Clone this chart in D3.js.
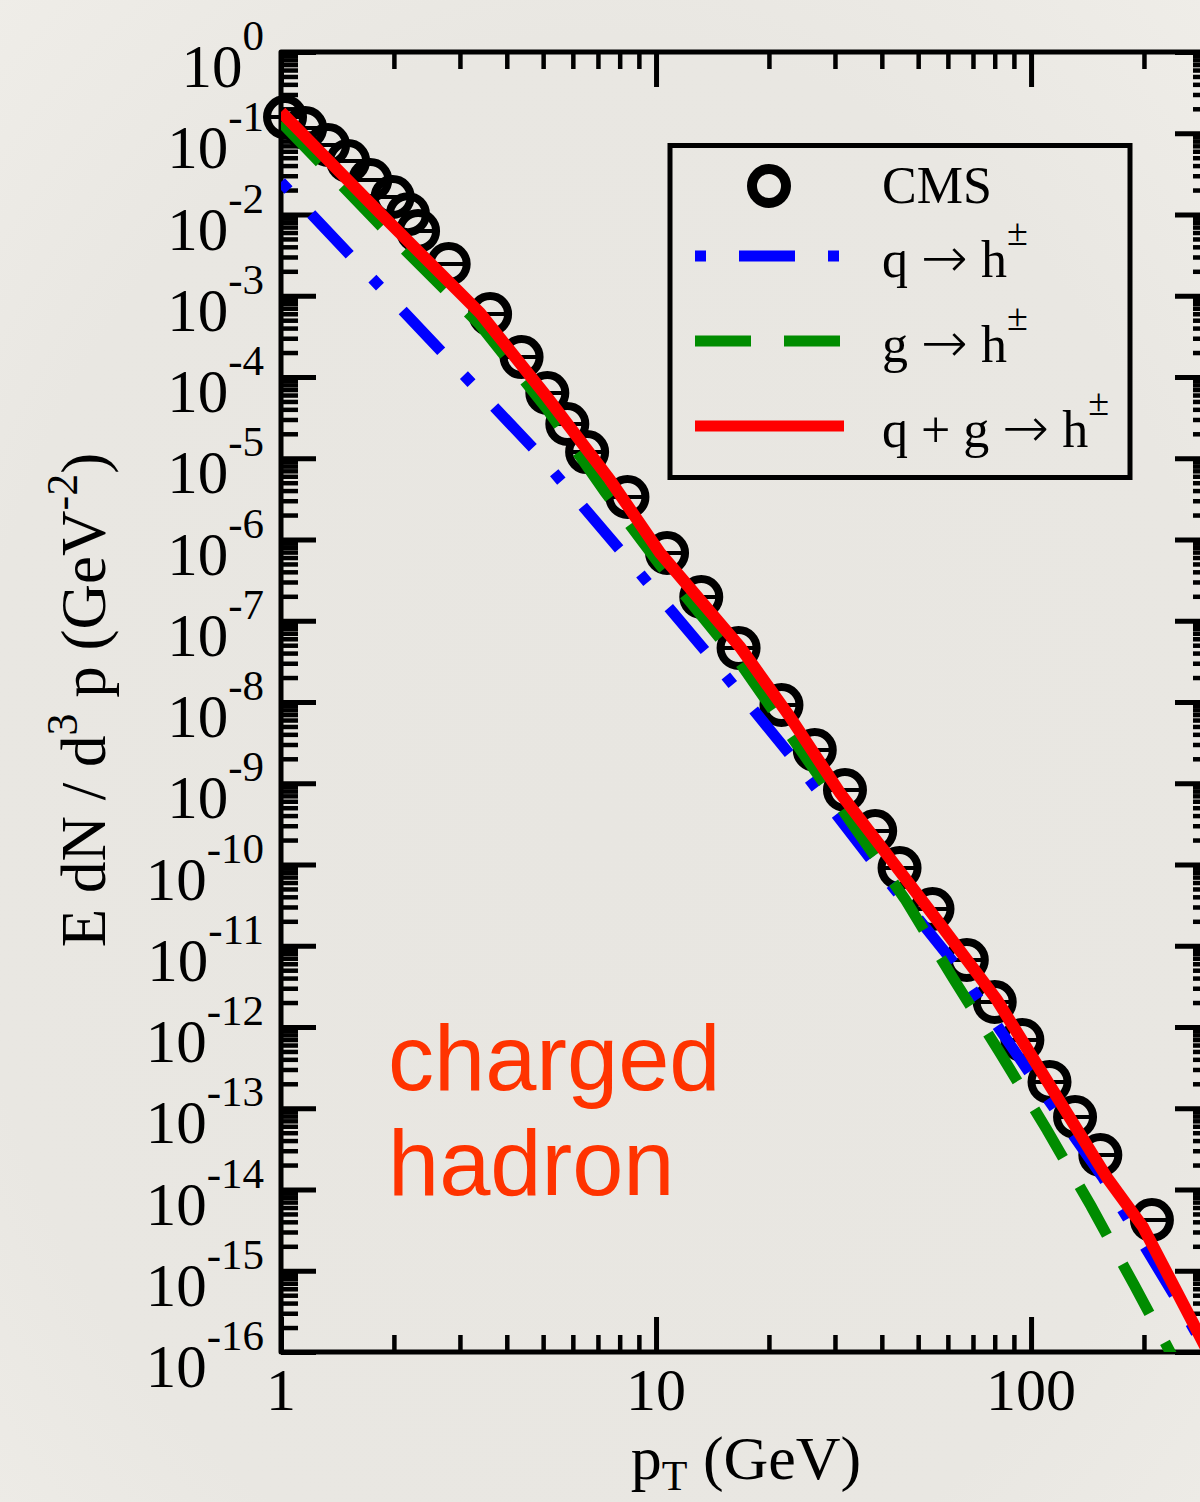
<!DOCTYPE html>
<html>
<head>
<meta charset="utf-8">
<script src="https://cdn.jsdelivr.net/npm/d3@7/dist/d3.min.js"></script>
<style>
  html, body { margin: 0; padding: 0; background: #e9e7e2; }
  svg { display: block; }
</style>
</head>
<body>
<svg id="chart" width="1200" height="1502"></svg>
<script>
// CMS charged-hadron spectrum (pT in GeV, E dN/d^3p in GeV^-2)
const cmsPt = [1.025, 1.16, 1.335, 1.51, 1.73, 1.985, 2.18, 2.32, 2.8, 3.61, 4.38, 5.13,
  5.8, 6.55, 8.39, 10.7, 13.2, 16.6, 21.6, 26.5, 31.9, 38.4, 44.6, 54.6, 67.4, 80.0,
  94.8, 112, 131, 153, 210];
const cmsYield = [0.158, 0.116, 0.0717, 0.0455, 0.0266, 0.0164, 0.0101, 0.00627, 0.00246,
  5.95e-4, 1.76e-4, 6.35e-5, 2.64e-5, 1.19e-5, 3.34e-6, 6.82e-7, 1.96e-7, 4.62e-8,
  9.19e-9, 2.57e-9, 8.26e-10, 2.58e-10, 9.06e-11, 2.83e-11, 6.68e-12, 2.03e-12,
  6.92e-13, 2.11e-13, 7.80e-14, 2.66e-14, 4.21e-15];

// quark fragmentation contribution
const quarkPt = [1, 1.528, 2.687, 4.699, 8.02, 13.68, 23.05, 37.9, 63.5, 101.2, 155.6, 245.1, 282.3];
const quarkYield = [0.0251, 3.17e-3, 2.03e-4, 1.34e-5, 7.43e-7, 4.01e-8, 2.10e-9, 1.07e-10,
  5.47e-12, 2.36e-13, 1.39e-14, 4.37e-16, 1.41e-16];

// gluon fragmentation contribution
const gluonPt = [1, 1.836, 3.395, 5.12, 7.31, 10.25, 16.75, 24.8, 33.95, 46.1, 61.9, 82.7,
  110.3, 144.5, 188.3, 234.9, 282.3];
const gluonYield = [0.1375, 7.43e-3, 4.37e-4, 4.04e-5, 3.84e-6, 4.85e-7, 3.02e-8, 2.23e-9,
  2.81e-10, 3.76e-11, 4.01e-12, 4.79e-13, 5.40e-14, 6.26e-15, 6.68e-16, 1e-16, 2.05e-17];

// quark + gluon total
const totalPt = [1, 1.836, 3.395, 5.12, 7.54, 10.25, 16.75, 22.77, 30.96, 56.1, 81.1, 159.5,
  198.9, 270.4, 300];
const totalYield = [0.183, 0.01044, 6.13e-4, 5.67e-5, 5.40e-6, 6.82e-7, 4.75e-8, 6.53e-9,
  7.58e-10, 2.08e-11, 2.15e-12, 1.39e-14, 3.45e-15, 2.27e-16, 9e-17];

const yDecades = d3.range(0, -17, -1);      // 10^0 ... 10^-16
const xTickLabels = [1, 10, 100];

// legend entries: text before the arrow, after it, and the superscript
const legendLabels = [
  {pre: "CMS"},
  {pre: "q ", post: " h", sup: "\u00b1"},
  {pre: "g ", post: " h", sup: "\u00b1"},
  {pre: "q + g ", post: " h", sup: "\u00b1"}
];

const svg = d3.select("#chart");
const W = 1200, H = 1502;
const plot = {left: 281, right: 1210, top: 52, bottom: 1352};
const serif = "'Liberation Serif', 'Times New Roman', Times, serif";

// page background with a faint vignette
const defs = svg.append("defs");
const bg = defs.append("radialGradient").attr("id", "bg")
  .attr("cx", "50%").attr("cy", "55%").attr("r", "75%");
bg.append("stop").attr("offset", "0%").attr("stop-color", "#e8e6e1");
bg.append("stop").attr("offset", "70%").attr("stop-color", "#e9e7e2");
bg.append("stop").attr("offset", "100%").attr("stop-color", "#efede8");
svg.append("rect").attr("width", W).attr("height", H).attr("fill", "url(#bg)");

defs.append("clipPath").attr("id", "plotClip").append("rect")
  .attr("x", plot.left).attr("y", plot.top)
  .attr("width", plot.right - plot.left).attr("height", plot.bottom - plot.top);

const x = d3.scaleLog().domain([1, 300]).range([plot.left, plot.right]);
const y = d3.scaleLog().domain([1e-16, 1]).range([plot.bottom, plot.top]);

// tick values
const yMajor = yDecades.map(k => Math.pow(10, k));
const yMinor = [];
yDecades.slice(1).forEach(k => d3.range(2, 10).forEach(m => yMinor.push(m * Math.pow(10, k))));
const xMajor = [1, 10, 100];
const xMinor = [2, 3, 4, 5, 6, 7, 8, 9, 20, 30, 40, 50, 60, 70, 80, 90, 200, 300];

function styleAxis(g, w) {
  g.select(".domain").remove();
  g.selectAll(".tick line").attr("stroke", "#000").attr("stroke-width", w);
  g.selectAll(".tick text").remove();
}

const MAJ = 35, MIN = 17;
// left / right axes (ticks pointing inward)
svg.append("g").attr("transform", `translate(${plot.left},0)`)
  .call(d3.axisLeft(y).tickValues(yMajor).tickSize(-MAJ).tickSizeOuter(0)).call(styleAxis, 5);
svg.append("g").attr("transform", `translate(${plot.left},0)`)
  .call(d3.axisLeft(y).tickValues(yMinor).tickSize(-MIN).tickSizeOuter(0)).call(styleAxis, 4.5);
svg.append("g").attr("transform", `translate(${plot.right},0)`)
  .call(d3.axisRight(y).tickValues(yMajor).tickSize(-MAJ).tickSizeOuter(0)).call(styleAxis, 5);
svg.append("g").attr("transform", `translate(${plot.right},0)`)
  .call(d3.axisRight(y).tickValues(yMinor).tickSize(-MIN).tickSizeOuter(0)).call(styleAxis, 4.5);
// bottom / top axes
svg.append("g").attr("transform", `translate(0,${plot.bottom})`)
  .call(d3.axisBottom(x).tickValues(xMajor).tickSize(-MAJ).tickSizeOuter(0)).call(styleAxis, 5);
svg.append("g").attr("transform", `translate(0,${plot.bottom})`)
  .call(d3.axisBottom(x).tickValues(xMinor).tickSize(-MIN).tickSizeOuter(0)).call(styleAxis, 4.5);
svg.append("g").attr("transform", `translate(0,${plot.top})`)
  .call(d3.axisTop(x).tickValues(xMajor).tickSize(-MAJ).tickSizeOuter(0)).call(styleAxis, 5);
svg.append("g").attr("transform", `translate(0,${plot.top})`)
  .call(d3.axisTop(x).tickValues(xMinor).tickSize(-MIN).tickSizeOuter(0)).call(styleAxis, 4.5);

// frame
svg.append("rect")
  .attr("x", plot.left).attr("y", plot.top)
  .attr("width", plot.right - plot.left).attr("height", plot.bottom - plot.top)
  .attr("fill", "none").attr("stroke", "#000").attr("stroke-width", 5)
  .attr("stroke-linejoin", "round");

// y tick labels: 10^k
const yLab = svg.append("g").attr("font-family", serif).attr("fill", "#000");
yDecades.forEach(k => {
  const t = yLab.append("text")
    .attr("x", 264).attr("y", y(Math.pow(10, k)) + 35)
    .attr("text-anchor", "end").attr("font-size", 61);
  t.append("tspan").text("10");
  t.append("tspan").attr("font-size", 43).attr("dy", -37).text(String(k));
});

// x tick labels
svg.append("g").selectAll("text").data(xTickLabels).join("text")
  .attr("x", d => x(d)).attr("y", 1410)
  .attr("text-anchor", "middle").attr("font-family", serif).attr("font-size", 60)
  .text(d => d);

// axis titles
const xt = svg.append("text").attr("x", 746).attr("y", 1479)
  .attr("text-anchor", "middle").attr("font-family", serif).attr("font-size", 62);
xt.append("tspan").text("p");
xt.append("tspan").attr("font-size", 42).attr("dy", 11).text("T");
xt.append("tspan").attr("dy", -11).text(" (GeV)");

const yt = svg.append("text").attr("transform", "translate(105,700) rotate(-90)")
  .attr("text-anchor", "middle").attr("font-family", serif).attr("font-size", 63);
yt.append("tspan").text("E dN / d");
yt.append("tspan").attr("font-size", 44).attr("dy", -28).text("3");
yt.append("tspan").attr("dy", 28).text(" p (GeV");
yt.append("tspan").attr("font-size", 44).attr("dy", -28).text("-2");
yt.append("tspan").attr("dy", 28).text(")");

// CMS data: open circles with horizontal bar
const R = 18;
const pts = svg.append("g");
cmsPt.forEach((p, i) => {
  const cx = x(p), cy = y(cmsYield[i]);
  pts.append("circle").attr("cx", cx).attr("cy", cy).attr("r", R)
    .attr("fill", "none").attr("stroke", "#000").attr("stroke-width", 8);
  pts.append("line").attr("x1", cx - R).attr("x2", cx + R).attr("y1", cy).attr("y2", cy)
    .attr("stroke", "#000").attr("stroke-width", 4);
});

// model curves
const line = d3.line().x(d => x(d[0])).y(d => y(d[1]));
const curves = svg.append("g").attr("clip-path", "url(#plotClip)").attr("fill", "none");
curves.append("path").datum(d3.zip(quarkPt, quarkYield)).attr("d", line)
  .attr("stroke", "#0000ff").attr("stroke-width", 11).attr("stroke-dasharray", "11,33,56,33");
curves.append("path").datum(d3.zip(gluonPt, gluonYield)).attr("d", line)
  .attr("stroke", "#008c00").attr("stroke-width", 11).attr("stroke-dasharray", "56,33");
curves.append("path").datum(d3.zip(totalPt, totalYield)).attr("d", line)
  .attr("stroke", "#ff0000").attr("stroke-width", 12);

// legend
const lg = svg.append("g");
lg.append("rect").attr("x", 670).attr("y", 145.5).attr("width", 460).attr("height", 332)
  .attr("fill", "none").attr("stroke", "#000").attr("stroke-width", 5);
const rowsY = [186, 256, 341, 426];
const baselines = [203, 277, 362, 447];
lg.append("circle").attr("cx", 769).attr("cy", rowsY[0]).attr("r", 17)
  .attr("fill", "none").attr("stroke", "#000").attr("stroke-width", 10);
const legStyles = [
  {c: "#0000ff", dash: "11,33,56,33"},
  {c: "#008c00", dash: "56,33"},
  {c: "#ff0000", dash: null}
];
legStyles.forEach((s, i) => {
  lg.append("line").attr("x1", 695).attr("x2", 844)
    .attr("y1", rowsY[i + 1]).attr("y2", rowsY[i + 1])
    .attr("stroke", s.c).attr("stroke-width", 11)
    .attr("stroke-dasharray", s.dash);
});
legendLabels.forEach((l, i) => {
  const t = lg.append("text").attr("x", 882).attr("y", baselines[i])
    .attr("font-family", serif).attr("font-size", 52).attr("xml:space", "preserve")
    .style("white-space", "pre");
  t.append("tspan").text(l.pre);
  if (l.post) {
    t.append("tspan").attr("font-family", "'DejaVu Sans', sans-serif").attr("font-size", 56)
      .attr("font-weight", 300).text("\u2192");
    t.append("tspan").text(l.post);
  }
  if (l.sup) t.append("tspan").attr("font-size", 38).attr("dy", -32).text(l.sup);
});

// annotation
const ann = svg.append("g").attr("font-family", "'Liberation Sans', Arial, Helvetica, sans-serif")
  .attr("font-size", 92).attr("fill", "#ff3300");
ann.append("text").attr("x", 388).attr("y", 1090).text("charged");
ann.append("text").attr("x", 388).attr("y", 1195).text("hadron");
</script>
</body>
</html>
